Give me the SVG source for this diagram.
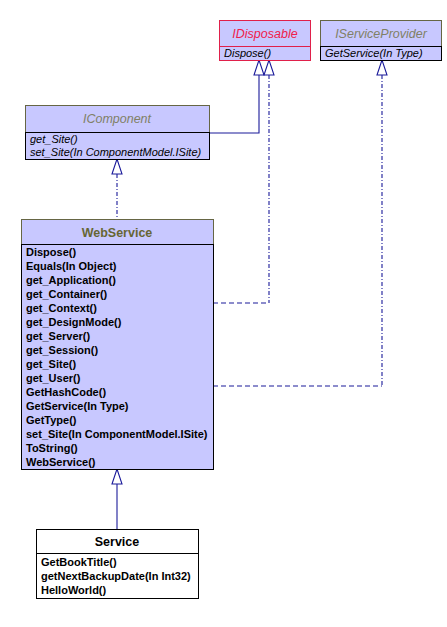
<svg xmlns="http://www.w3.org/2000/svg" width="447" height="627" viewBox="0 0 447 627">
<style>
.box{fill:#C8C8FF;stroke:#000;stroke-width:1}
.hdr{fill:#C8C8FF;stroke:#666644;stroke-width:1}
.t{font-family:"Liberation Sans",Arial,sans-serif;font-size:11px;fill:#000}
.b{font-weight:bold}
.i{font-style:italic}
.h{font-family:"Liberation Sans",Arial,sans-serif;font-size:12.5px;text-anchor:middle}
.c{fill:none;stroke:#1A1A9A;stroke-width:1.1}
.dd{stroke-dasharray:4,2,1,2}
.ds{stroke-dasharray:5,3}
.ar{fill:#fff;stroke:#1A1A9A;stroke-width:1.1}
</style>
<rect width="447" height="627" fill="#fff"/>
<g id="connectors">
<path class="c" d="M209,133 H259 V75"/>
<path class="c dd" d="M269,75 V303"/>
<path class="c ds" d="M213,303 H269"/>
<path class="c dd" d="M382,75 V386"/>
<path class="c ds" d="M213,386 H382"/>
<path class="c dd" d="M117,174 V219"/>
<path class="c" d="M117,484 V529"/>
<polygon class="ar" points="259,60 254,75 264,75"/>
<polygon class="ar" points="269,60 264,75 274,75"/>
<polygon class="ar" points="382,60 377,75 387,75"/>
<polygon class="ar" points="117,159 112,174 122,174"/>
<polygon class="ar" points="117,469 112,484 122,484"/>
</g>
<g id="IDisposable">
<rect x="219.5" y="20.5" width="91" height="40" fill="#C8C8FF" stroke="#E0204A"/>
<line x1="219.5" y1="46.5" x2="310.5" y2="46.5" stroke="#E0204A"/>
<text class="h i" x="265" y="38" fill="#F0204A">IDisposable</text>
<text class="t i" x="224" y="57">Dispose()</text>
</g>
<g id="IServiceProvider">
<rect class="hdr" x="320.5" y="20.5" width="121" height="26"/>
<rect class="box" x="320.5" y="46.5" width="121" height="14"/>
<text class="h i" x="381" y="38" fill="#808066">IServiceProvider</text>
<text class="t i" x="325" y="57">GetService(In Type)</text>
</g>
<g id="IComponent">
<rect class="hdr" x="25.5" y="105.5" width="184" height="27"/>
<rect class="box" x="25.5" y="132.5" width="184" height="27"/>
<text class="h i" x="117" y="123" fill="#808066">IComponent</text>
<text class="t i" x="30" y="143">get_Site()</text>
<text class="t i" x="30" y="156">set_Site(In ComponentModel.ISite)</text>
</g>
<g id="WebService">
<rect class="hdr" x="21.5" y="219.5" width="192" height="25"/>
<rect class="box" x="21.5" y="244.5" width="192" height="225"/>
<text class="h b" x="117" y="237" fill="#666633">WebService</text>
<g class="t b">
<text x="26" y="256">Dispose()</text>
<text x="26" y="270">Equals(In Object)</text>
<text x="26" y="284">get_Application()</text>
<text x="26" y="298">get_Container()</text>
<text x="26" y="312">get_Context()</text>
<text x="26" y="326">get_DesignMode()</text>
<text x="26" y="340">get_Server()</text>
<text x="26" y="354">get_Session()</text>
<text x="26" y="368">get_Site()</text>
<text x="26" y="382">get_User()</text>
<text x="26" y="396">GetHashCode()</text>
<text x="26" y="410">GetService(In Type)</text>
<text x="26" y="424">GetType()</text>
<text x="26" y="438">set_Site(In ComponentModel.ISite)</text>
<text x="26" y="452">ToString()</text>
<text x="26" y="466">WebService()</text>
</g>
</g>
<g id="Service">
<rect x="36.5" y="529.5" width="162" height="69" fill="#fff" stroke="#000"/>
<line x1="36.5" y1="553.5" x2="198.5" y2="553.5" stroke="#000"/>
<text class="h b" x="117" y="546" fill="#000">Service</text>
<g class="t b">
<text x="41" y="566">GetBookTitle()</text>
<text x="41" y="580">getNextBackupDate(In Int32)</text>
<text x="41" y="594">HelloWorld()</text>
</g>
</g>
</svg>
